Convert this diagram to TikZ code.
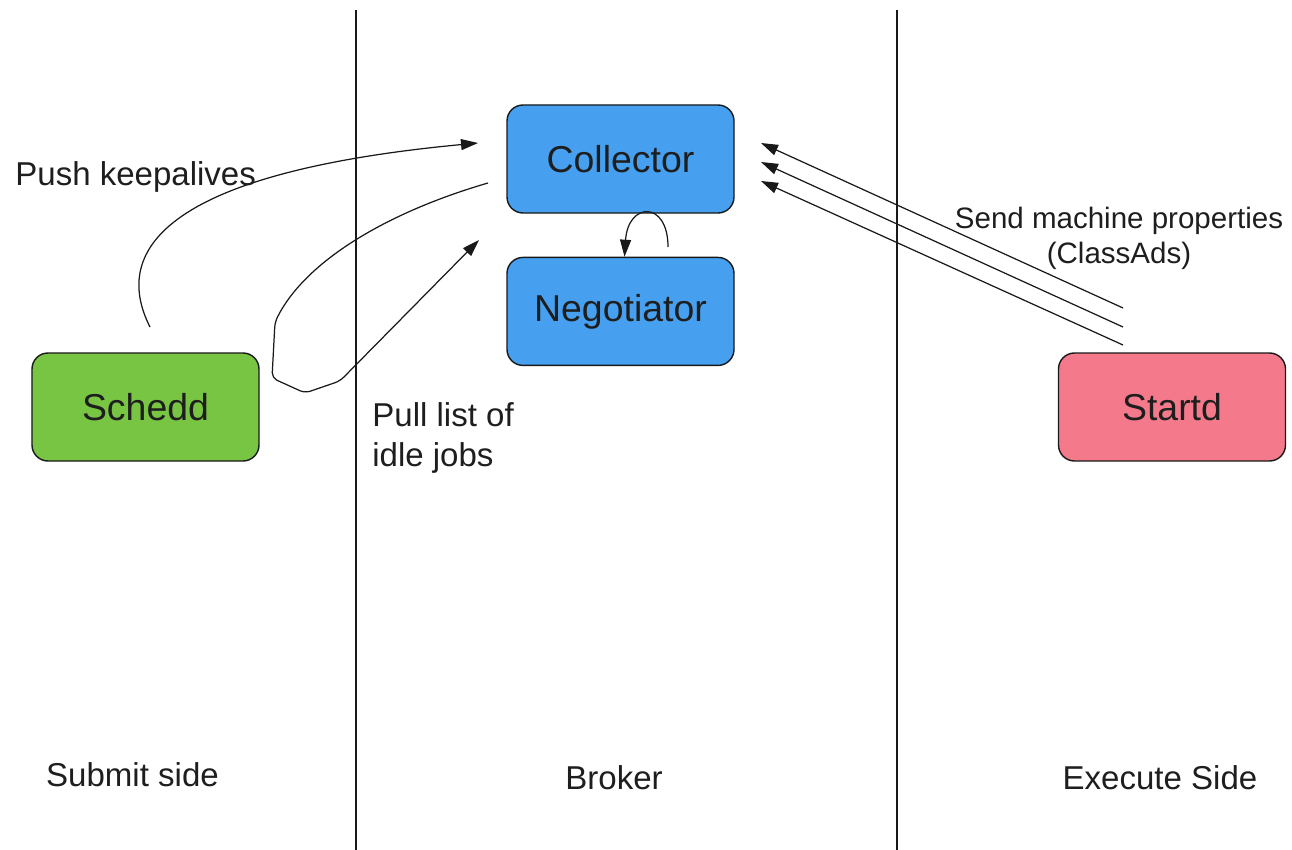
\documentclass[tikz,border=0pt]{standalone}
\usepackage{fontspec}
\setmainfont{Liberation Sans}
\usepackage{xcolor}
\definecolor{condorblue}{RGB}{70,160,239}
\definecolor{condorgreen}{RGB}{120,196,67}
\definecolor{condorpink}{RGB}{244,122,139}
\definecolor{condorline}{RGB}{25,25,25}
\definecolor{condortext}{RGB}{30,30,30}
\usetikzlibrary{arrows.meta, positioning}

\tikzset{
  daemon/.style={draw=condorline, line width=0.8pt, rounded corners=3.2mm,
    minimum width=45.4mm, minimum height=21.6mm, inner sep=0pt,
    font=\fontsize{21.3}{25}\selectfont, text=condortext},
  sidelabel/.style={font=\fontsize{18.8}{22.7}\selectfont, inner sep=0pt, text=condortext},
  flow/.style={line width=0.7pt, condorline, -{Triangle[length=3.4mm,width=2.2mm]}},
}

\begin{document}
\begin{tikzpicture}[x=0.2mm, y=-0.2mm]
\useasboundingbox (0,0) rectangle (1292,850);

% --- Side separators ---
\draw[line width=0.85pt, condorline] (356,10) -- (356,850);
\draw[line width=0.85pt, condorline] (897,10) -- (897,850);

% --- Daemons ---
\node[daemon, fill=condorblue] (collector) at (620.5,159) {Collector};
\node[daemon, fill=condorblue, below=8.6mm of collector] (negotiator) {Negotiator};
\node[daemon, fill=condorgreen] (schedd) at (145.5,407) {Schedd};
\node[daemon, fill=condorpink] (startd) at (1172,407) {Startd};

% --- Schedd keepalives ---
\coordinate (pushstart) at (150,327);
\coordinate (pushend) at (478,143);
\draw[flow] (pushstart) .. controls (110,248) and (170,172) .. (pushend);
\node[sidelabel, anchor=west] (pushlbl) at (15,177) {Push keepalives};

% --- Pull of idle jobs ---
\coordinate (pullstart) at (488,183);
\coordinate (pullend) at (479,240);
\draw[flow, rounded corners=3pt] (pullstart) .. controls (385,213) and (305,262) .. (275,322)
  -- (272,378) -- (305,393) -- (340,381) -- (pullend);
\node[sidelabel, anchor=west, align=left] (pulllbl) at (372,438) {Pull list of\\idle jobs};

% --- Negotiator loop ---
\coordinate (loopstart) at (668,247);
\coordinate (loopend) at ([xshift=0.8mm]negotiator.north);
\draw[flow] (loopstart) .. controls (668,200) and (628,202) .. (loopend);

% --- Startd ClassAds ---
\foreach \k/\ys/\ye in {1/308/143, 2/327/162, 3/345/181} {
  \coordinate (ad\k) at (1123,\ys);
  \coordinate (adtip\k) at (761,\ye);
  \draw[flow] (ad\k) -- (adtip\k);
}
\node[font=\fontsize{16.8}{19.8}\selectfont, inner sep=0pt, align=center, text=condortext]
  (adlbl) at (1119,238) {Send machine properties\\(ClassAds)};

% --- Side names ---
\node[sidelabel] (submitlbl) at (132.5,775) {Submit side};
\node[sidelabel] (brokerlbl) at (614,778) {Broker};
\node[sidelabel] (executelbl) at (1160,778) {Execute Side};

\end{tikzpicture}
\end{document}
